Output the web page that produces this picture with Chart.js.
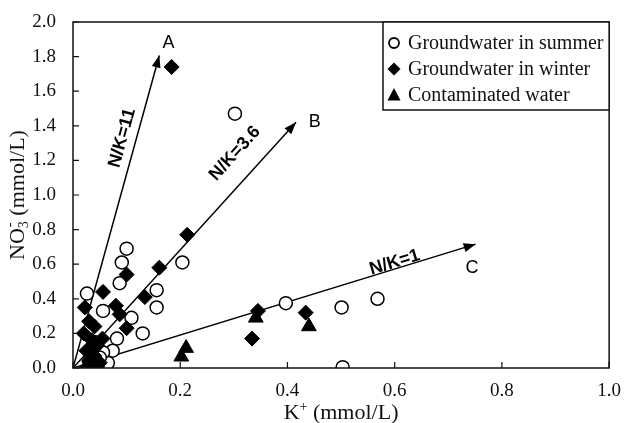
<!DOCTYPE html>
<html>
<head>
<meta charset="utf-8">
<script src="https://cdn.jsdelivr.net/npm/chart.js@4.4.0/dist/chart.umd.min.js"></script>
<style>
  html, body { margin: 0; padding: 0; background: #fff; }
  #wrap { width: 625px; height: 423px; }
</style>
</head>
<body>
<div id="wrap"><canvas id="grafico"></canvas></div>
<script>
// valores (K+ e NO3- em mmol/L)
const summerK = [0.100, 0.091, 0.087, 0.026, 0.056, 0.156, 0.156, 0.109, 0.130, 0.082, 0.204, 0.065, 0.074, 0.056, 0.050, 0.040, 0.030, 0.302, 0.397, 0.501, 0.568, 0.503];
const summerN = [0.69, 0.61, 0.49, 0.43, 0.33, 0.45, 0.35, 0.29, 0.20, 0.17, 0.61, 0.03, 0.10, 0.09, 0.06, 0.15, 0.04, 1.47, 0.375, 0.35, 0.40, 0.005];

const winterK = [0.184, 0.213, 0.161, 0.100, 0.056, 0.134, 0.080, 0.022, 0.087, 0.100, 0.345, 0.334, 0.434, 0.030, 0.040, 0.020, 0.035, 0.045, 0.025, 0.040, 0.030, 0.045, 0.025, 0.055, 0.050];
const winterN = [1.74, 0.77, 0.58, 0.54, 0.44, 0.41, 0.36, 0.35, 0.31, 0.23, 0.33, 0.17, 0.32, 0.27, 0.24, 0.20, 0.16, 0.13, 0.10, 0.07, 0.04, 0.01, 0.00, 0.17, 0.03];

const contamK = [0.341, 0.440, 0.211, 0.202];
const contamN = [0.29, 0.24, 0.115, 0.065];

const seriesNames = ['Groundwater in summer', 'Groundwater in winter', 'Contaminated water'];

// linhas de razão N/K (da origem até a ponta da seta)
const arrowK = [0.161, 0.416, 0.751];
const arrowN = [1.806, 1.42, 0.716];
const arrowNames = ['A', 'B', 'C'];
const letterK = [0.178, 0.451, 0.744];
const letterN = [1.88, 1.42, 0.577];
const ratioLabels = ['N/K=11', 'N/K=3.6', 'N/K=1'];
const ratioK = [0.092, 0.302, 0.600];
const ratioN = [1.33, 1.24, 0.61];

const xTicks = [0, 0.2, 0.4, 0.6, 0.8, 1.0];
const yTicks = [0, 0.2, 0.4, 0.6, 0.8, 1.0, 1.2, 1.4, 1.6, 1.8, 2.0];

const serif = "'Liberation Serif', 'Times New Roman', serif";
const sans = "'Liberation Sans', Arial, sans-serif";

function pontos(xs, ys) {
    return xs.map((x, i) => ({ x: x, y: ys[i] }));
}

const datasets = [
    {
        label: seriesNames[0],
        data: pontos(summerK, summerN),
        pointStyle: 'circle',
        pointRadius: 6.5,
        backgroundColor: '#fff',
        borderColor: '#000',
        borderWidth: 1.5,
        order: 1
    },
    {
        label: seriesNames[1],
        data: pontos(winterK, winterN),
        pointStyle: 'rectRot',
        pointRadius: 7.5,
        backgroundColor: '#000',
        borderColor: '#000',
        borderWidth: 1,
        order: 0
    },
    {
        label: seriesNames[2],
        data: pontos(contamK, contamN),
        pointStyle: 'triangle',
        pointRadius: 8.5,
        backgroundColor: '#000',
        borderColor: '#000',
        borderWidth: 1,
        order: 0
    }
];

arrowK.forEach((k, i) => {
    datasets.push({
        label: 'linha ' + arrowNames[i],
        data: [{ x: 0, y: 0 }, { x: k, y: arrowN[i] }],
        showLine: true,
        pointRadius: 0,
        borderColor: '#000',
        borderWidth: 1.5,
        order: 2
    });
});

// desenha setas, rótulos, moldura, ticks internos, títulos e legenda
const decoracao = {
    id: 'decoracao',
    afterDatasetsDraw(chart) {
        const ctx = chart.ctx;
        const sx = chart.scales.x, sy = chart.scales.y;
        ctx.save();
        arrowK.forEach((k, i) => {
            const x0 = sx.getPixelForValue(0), y0 = sy.getPixelForValue(0);
            const x1 = sx.getPixelForValue(k), y1 = sy.getPixelForValue(arrowN[i]);
            const ang = Math.atan2(y1 - y0, x1 - x0);
            const len = 12, half = 4.5;
            ctx.fillStyle = '#000';
            ctx.beginPath();
            ctx.moveTo(x1, y1);
            ctx.lineTo(x1 - len * Math.cos(ang) + half * Math.sin(ang), y1 - len * Math.sin(ang) - half * Math.cos(ang));
            ctx.lineTo(x1 - len * Math.cos(ang) - half * Math.sin(ang), y1 - len * Math.sin(ang) + half * Math.cos(ang));
            ctx.closePath();
            ctx.fill();

            // letra A/B/C
            ctx.font = '18px ' + sans;
            ctx.textAlign = 'center';
            ctx.textBaseline = 'middle';
            ctx.fillText(arrowNames[i], sx.getPixelForValue(letterK[i]), sy.getPixelForValue(letterN[i]));

            // rótulo N/K girado ao longo da linha
            ctx.save();
            ctx.translate(sx.getPixelForValue(ratioK[i]), sy.getPixelForValue(ratioN[i]));
            ctx.rotate(ang);
            ctx.font = 'bold 18px ' + sans;
            ctx.fillText(ratioLabels[i], 0, 0);
            ctx.restore();
        });
        ctx.restore();
    },
    afterDraw(chart) {
        const ctx = chart.ctx;
        const a = chart.chartArea;
        const sx = chart.scales.x, sy = chart.scales.y;
        ctx.save();

        // moldura
        ctx.strokeStyle = '#111';
        ctx.lineWidth = 1.5;
        ctx.strokeRect(a.left, a.top, a.right - a.left, a.bottom - a.top);

        // ticks para dentro
        ctx.lineWidth = 1.2;
        ctx.beginPath();
        xTicks.forEach(v => {
            const px = sx.getPixelForValue(v);
            ctx.moveTo(px, a.bottom);
            ctx.lineTo(px, a.bottom - 6);
        });
        yTicks.forEach(v => {
            const py = sy.getPixelForValue(v);
            ctx.moveTo(a.left, py);
            ctx.lineTo(a.left + 6, py);
        });
        ctx.stroke();

        ctx.fillStyle = '#111';
        ctx.textBaseline = 'alphabetic';
        ctx.textAlign = 'left';

        // título do eixo x: K+ (mmol/L)
        const fMain = '22px ' + serif, fSmall = '14px ' + serif;
        ctx.font = fMain;
        const wK = ctx.measureText('K').width;
        const wRest = ctx.measureText(' (mmol/L)').width;
        ctx.font = fSmall;
        const wPlus = ctx.measureText('+').width;
        let xStart = (a.left + a.right) / 2 - (wK + wPlus + wRest) / 2;
        const xBase = 419;
        ctx.font = fMain;
        ctx.fillText('K', xStart, xBase);
        ctx.font = fSmall;
        ctx.fillText('+', xStart + wK, xBase - 8);
        ctx.font = fMain;
        ctx.fillText(' (mmol/L)', xStart + wK + wPlus, xBase);

        // título do eixo y: NO3- (mmol/L)
        ctx.save();
        ctx.translate(24, (a.top + a.bottom) / 2);
        ctx.rotate(-Math.PI / 2);
        ctx.font = fMain;
        const wNO = ctx.measureText('NO').width;
        const wR2 = ctx.measureText(' (mmol/L)').width;
        ctx.font = fSmall;
        const w3 = ctx.measureText('3').width;
        let s = -(wNO + w3 + wR2) / 2;
        ctx.font = fMain;
        ctx.fillText('NO', s, 0);
        ctx.font = fSmall;
        ctx.fillText('3', s + wNO, 4);
        ctx.fillText('-', s + wNO + 1, -10);
        ctx.font = fMain;
        ctx.fillText(' (mmol/L)', s + wNO + w3, 0);
        ctx.restore();

        // legenda
        const lx = 383, ly = a.top, lw = a.right - lx, lh = 88;
        ctx.fillStyle = '#fff';
        ctx.fillRect(lx, ly, lw, lh);
        ctx.strokeStyle = '#111';
        ctx.lineWidth = 1.5;
        ctx.strokeRect(lx, ly, lw, lh);
        const rows = [ly + 21, ly + 47, ly + 73];
        ctx.font = '20px ' + serif;
        ctx.textBaseline = 'middle';
        rows.forEach((ry, i) => {
            const mx = lx + 11;
            ctx.fillStyle = '#000';
            ctx.strokeStyle = '#000';
            ctx.beginPath();
            if (i === 0) {
                ctx.lineWidth = 1.8;
                ctx.arc(mx, ry, 5, 0, Math.PI * 2);
                ctx.stroke();
            } else if (i === 1) {
                ctx.moveTo(mx, ry - 6.5);
                ctx.lineTo(mx + 6.5, ry);
                ctx.lineTo(mx, ry + 6.5);
                ctx.lineTo(mx - 6.5, ry);
                ctx.closePath();
                ctx.fill();
            } else {
                ctx.moveTo(mx, ry - 7);
                ctx.lineTo(mx + 6.5, ry + 5.5);
                ctx.lineTo(mx - 6.5, ry + 5.5);
                ctx.closePath();
                ctx.fill();
            }
            ctx.fillStyle = '#111';
            ctx.fillText(seriesNames[i], lx + 25, ry + 1);
        });
        ctx.restore();
    }
};

const ctx = document.getElementById('grafico').getContext('2d');
const myChart = new Chart(ctx, {
    type: 'scatter',
    data: { datasets: datasets },
    options: {
        responsive: true,
        maintainAspectRatio: false,
        animation: false,
        layout: { padding: { top: 22, right: 12, left: 0, bottom: 0 } },
        plugins: {
            legend: { display: false },
            tooltip: { enabled: false }
        },
        scales: {
            x: {
                type: 'linear',
                min: 0,
                max: 1,
                grid: { display: false },
                border: { display: false },
                ticks: {
                    stepSize: 0.2,
                    padding: 4,
                    color: '#111',
                    font: { family: serif, size: 19 },
                    callback: v => v.toFixed(1)
                },
                afterFit: scale => { scale.height = 55; }
            },
            y: {
                type: 'linear',
                min: 0,
                max: 2,
                grid: { display: false },
                border: { display: false },
                ticks: {
                    stepSize: 0.2,
                    padding: 9,
                    color: '#111',
                    font: { family: serif, size: 19 },
                    callback: v => v.toFixed(1)
                },
                afterFit: scale => { scale.width = 73; }
            }
        }
    },
    plugins: [decoracao]
});
</script>
</body>
</html>
